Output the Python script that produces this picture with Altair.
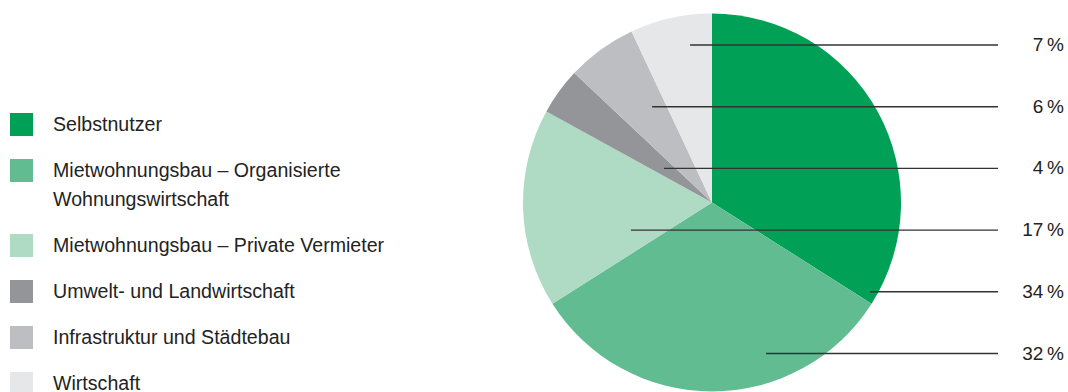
import altair as alt
import pandas as pd

# Share of promotional volume by segment (percent)
categories = [
    "Selbstnutzer",
    "Mietwohnungsbau – Organisierte Wohnungswirtschaft",
    "Mietwohnungsbau – Private Vermieter",
    "Umwelt- und Landwirtschaft",
    "Infrastruktur und Städtebau",
    "Wirtschaft",
]
shares = [34, 32, 17, 4, 6, 7]
colors = ["#00A056", "#62BC92", "#AFDAC4", "#939598", "#BCBEC1", "#E6E7E8"]

# Legend text, broken into lines
legend_lines = [
    ["Selbstnutzer"],
    ["Mietwohnungsbau – Organisierte", "Wohnungswirtschaft"],
    ["Mietwohnungsbau – Private Vermieter"],
    ["Umwelt- und Landwirtschaft"],
    ["Infrastruktur und Städtebau"],
    ["Wirtschaft"],
]

# Order of the value labels on the right, top to bottom
label_order = [
    "Wirtschaft",
    "Infrastruktur und Städtebau",
    "Umwelt- und Landwirtschaft",
    "Mietwohnungsbau – Private Vermieter",
    "Selbstnutzer",
    "Mietwohnungsbau – Organisierte Wohnungswirtschaft",
]
# Where each leader line begins, as a fraction of the radius from the pie centre
leader_anchor = [-0.116, -0.317, -0.254, -0.429, 0.836, 0.286]

# Layout
W, H = 1068, 392
CX, CY, R = 712, 202.5, 189
LABEL_TOP, LABEL_STEP = 45, 61.7
LEADER_END = 998
LABEL_RIGHT = 1064
LEG_TOP, LEG_STEP, LEG_LINE = 124.5, 46, 29
FONT = "Liberation Sans"
TEXT_COLOR = "#232323"

color_scale = alt.Scale(domain=categories, range=colors)

slices = pd.DataFrame({"cat": categories, "share": shares, "idx": range(len(categories))})

share_of = dict(zip(categories, shares))
rows = pd.DataFrame({
    "cat": label_order,
    "row": range(len(label_order)),
    "anchor": leader_anchor,
    "label": [f"{share_of[c]}\u2009%" for c in label_order],
})

# Legend rows: two-line entries take extra space
leg_pos, text_rows = [], []
pos = 0.0
extra = LEG_LINE / LEG_STEP
for cat, lines in zip(categories, legend_lines):
    leg_pos.append(pos)
    for j, line in enumerate(lines):
        text_rows.append({"pos": pos + j * extra, "text": line})
    pos += 1 + (len(lines) - 1) * extra
legend = pd.DataFrame({"cat": categories, "pos": leg_pos})
legend_text = pd.DataFrame(text_rows)
leg_max = leg_pos[-1]
leg_y = alt.Scale(domain=[0, leg_max], range=[LEG_TOP, LEG_TOP + leg_max * LEG_STEP])

row_y = alt.Scale(domain=[0, len(label_order) - 1],
                  range=[LABEL_TOP, LABEL_TOP + (len(label_order) - 1) * LABEL_STEP])

pie = alt.Chart(slices).mark_arc(outerRadius=R, stroke=None).encode(
    theta=alt.Theta("share:Q", stack=True),
    order=alt.Order("idx:Q"),
    color=alt.Color("cat:N", scale=color_scale, legend=None),
    x=alt.value(CX),
    y=alt.value(CY),
)

leaders = alt.Chart(rows).mark_rule(color="#333333", strokeWidth=1.4).encode(
    x=alt.X("anchor:Q", scale=alt.Scale(domain=[-1, 1], range=[CX - R, CX + R]), axis=None),
    x2=alt.value(LEADER_END),
    y=alt.Y("row:Q", scale=row_y, axis=None),
)

values = alt.Chart(rows).mark_text(
    align="right", baseline="middle", font=FONT, fontSize=19, color=TEXT_COLOR
).encode(
    x=alt.value(LABEL_RIGHT),
    y=alt.Y("row:Q", scale=row_y, axis=None),
    text="label:N",
)

swatches = alt.Chart(legend).mark_square(size=23 * 23, opacity=1, filled=True).encode(
    x=alt.value(21.5),
    y=alt.Y("pos:Q", scale=leg_y, axis=None),
    color=alt.Color("cat:N", scale=color_scale, legend=None),
)

legend_labels = alt.Chart(legend_text).mark_text(
    align="left", baseline="middle", font=FONT, fontSize=19.6, color=TEXT_COLOR
).encode(
    x=alt.value(53),
    y=alt.Y("pos:Q", scale=leg_y, axis=None),
    text="text:N",
)

chart = alt.layer(pie, leaders, values, swatches, legend_labels).resolve_scale(
    x="independent", y="independent"
).properties(
    width=W, height=H, padding=0, autosize="none", background="white"
).configure_view(stroke=None)

chart.save("out.html", embed_options={"renderer": "svg", "actions": False})
